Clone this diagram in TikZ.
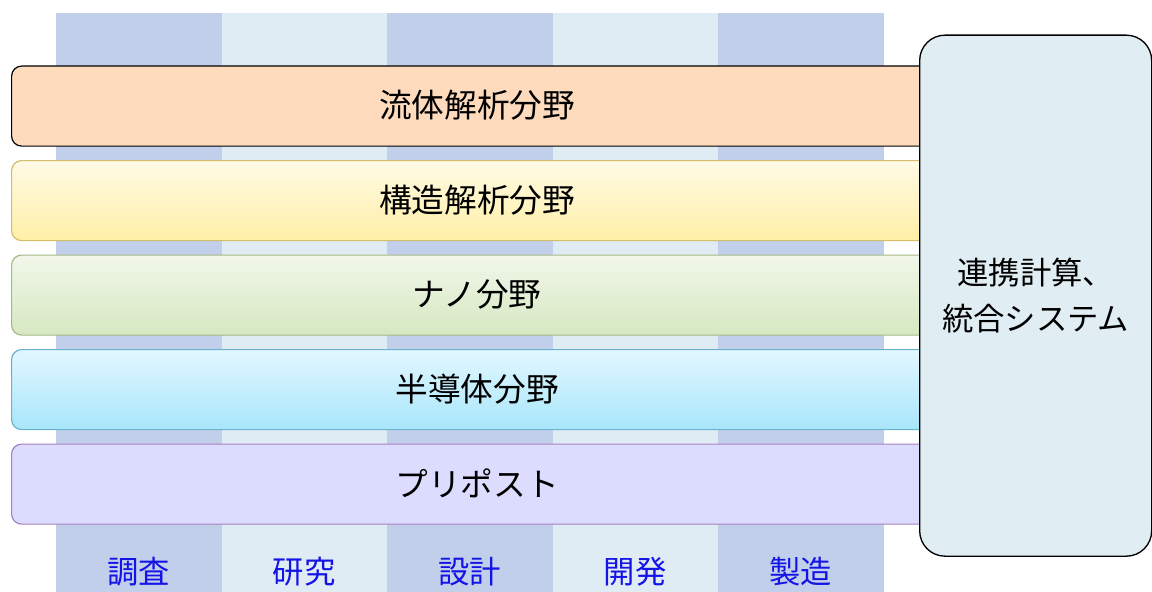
\documentclass[tikz,border=0pt]{standalone}
\usepackage{fontspec}
\newfontfamily\jp{Noto Sans CJK JP}
\definecolor{coldark}{HTML}{C1CFEB}
\definecolor{collight}{HTML}{E0ECF4}
\definecolor{peach}{HTML}{FDDBBC}
\definecolor{yeltop}{HTML}{FFFAE6}
\definecolor{yelbot}{HTML}{FFEFA6}
\definecolor{yelbd}{HTML}{D4BE6C}
\definecolor{grntop}{HTML}{F1F7EA}
\definecolor{grnbot}{HTML}{D6E8C1}
\definecolor{grnbd}{HTML}{A6B987}
\definecolor{blutop}{HTML}{E2F7FF}
\definecolor{blubot}{HTML}{A8E6FB}
\definecolor{blubd}{HTML}{6BB3CC}
\definecolor{lav}{HTML}{DCDCFE}
\definecolor{lavbd}{HTML}{A882BE}
\definecolor{sysfill}{HTML}{E0EDF3}
\definecolor{lblblue}{HTML}{1414E6}
\begin{document}
\begin{tikzpicture}[x=0.75pt,y=-0.75pt,
  colbox/.style={minimum width=165.5*0.75pt,minimum height=579*0.75pt,inner sep=0pt,outer sep=0pt,anchor=north west},
  bar/.style={rounded corners=7.5pt,minimum width=932*0.75pt,minimum height=80*0.75pt,inner sep=0pt,anchor=north west,line width=0.9pt},
  bartext/.style={font=\jp\fontsize{24.5}{28}\selectfont,inner sep=0pt},
  lbl/.style={font=\jp\fontsize{23.5}{28}\selectfont,text=lblblue,inner sep=0pt}]
\useasboundingbox (0,0) rectangle (1152,592);
\fill[white] (0,0) rectangle (1152,592);
% columns
\node[colbox,fill=coldark] (c1) at (56,13) {};
\node[colbox,fill=collight] (c2) at (221.5,13) {};
\node[colbox,fill=coldark] (c3) at (387,13) {};
\node[colbox,fill=collight] (c4) at (552.5,13) {};
\node[colbox,fill=coldark] (c5) at (718,13) {};
% bars
\node[bar,draw=black,fill=peach] (b1) at (11,65.5) {};
\node[bar,draw=yelbd,top color=yeltop,bottom color=yelbot] (b2) at (11,160) {};
\node[bar,draw=grnbd,top color=grntop,bottom color=grnbot] (b3) at (11,254.5) {};
\node[bar,draw=blubd,top color=blutop,bottom color=blubot] (b4) at (11,349) {};
\node[bar,draw=lavbd,fill=lav] (b5) at (11,443.5) {};
\node[bartext] (t1) at (477,105.5) {流体解析分野};
\node[bartext] (t2) at (477,200) {構造解析分野};
\node[bartext] (t3) at (477,294.5) {ナノ分野};
\node[bartext] (t4) at (477,389) {半導体分野};
\node[bartext] (t5) at (477,483.5) {プリポスト};
% system box
\node[draw=black,line width=1pt,fill=sysfill,rounded corners=19pt,minimum width=232*0.75pt,minimum height=521*0.75pt,inner sep=0pt,anchor=north west,align=center,font=\jp\fontsize{23.5}{34.5}\selectfont] (sys) at (919,34.5) {連携計算、\\統合システム};
% column labels
\node[lbl] (l1) at (138.5,572) {調査};
\node[lbl] (l2) at (304,572) {研究};
\node[lbl] (l3) at (469.5,572) {設計};
\node[lbl] (l4) at (635,572) {開発};
\node[lbl] (l5) at (800.5,572) {製造};
\end{tikzpicture}
\end{document}
